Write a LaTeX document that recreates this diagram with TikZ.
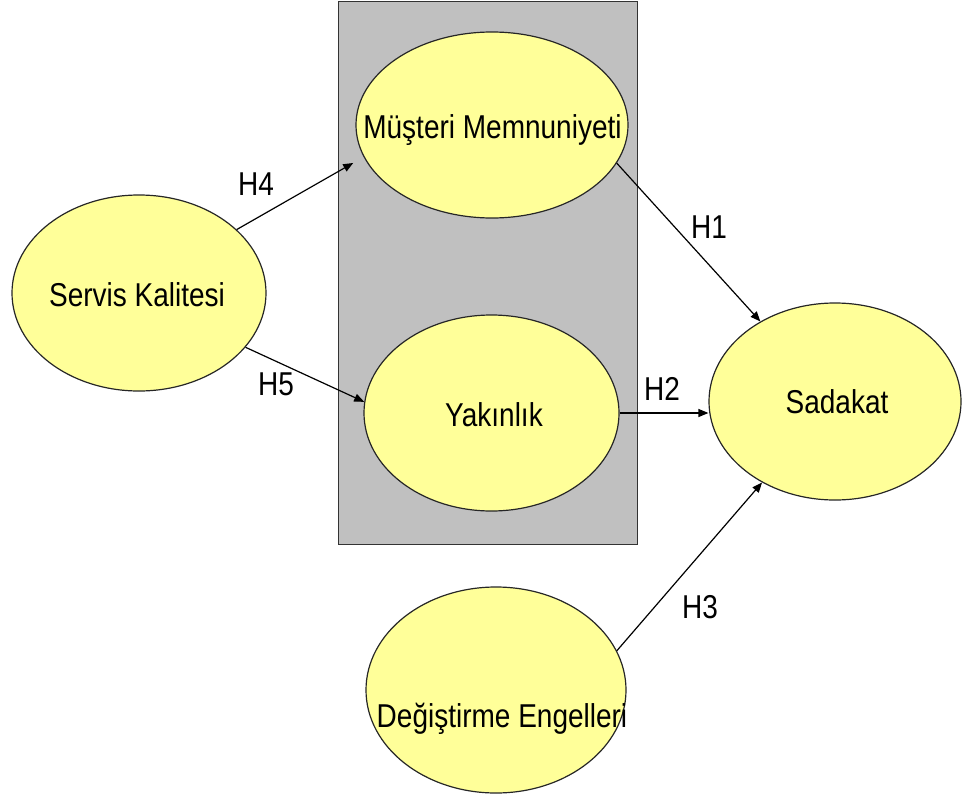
\documentclass[tikz,border=0pt]{standalone}
\usepackage{fontspec}
\setmainfont{Liberation Sans}
\usetikzlibrary{shapes.geometric,arrows.meta}
\definecolor{bubble}{RGB}{255,255,153}
\definecolor{panel}{RGB}{192,192,192}
% slightly tall lettering
\newcommand\stretchtxt[1]{\scalebox{1}[1.18]{#1}}
\begin{document}
\begin{tikzpicture}[x=1pt,y=-1pt,
  construct/.style={ellipse, draw=black!85, line width=1.2pt, fill=bubble, inner sep=0pt},
  caption/.style={inner sep=0pt, anchor=base, font=\fontsize{28}{32}\selectfont},
  hyp/.style={inner sep=0pt, anchor=base, font=\fontsize{28}{32}\selectfont},
  link/.style={draw=black, line width=1.2pt, -{Triangle[length=10pt,width=8pt]}}]
\useasboundingbox (0,0) rectangle (963,800);

% grey panel behind the two mediators
\node[draw=black!80, line width=1.3pt, fill=panel, minimum width=299pt,
      minimum height=543pt, anchor=north west, inner sep=0pt] (panel) at (338,1) {};

% constructs
\node[construct, minimum width=272pt, minimum height=186pt] (ms) at (492,125) {};
\node[construct, minimum width=254pt, minimum height=196pt] (sk) at (139,293) {};
\node[construct, minimum width=255pt, minimum height=196pt] (yk) at (491.5,413) {};
\node[construct, minimum width=252pt, minimum height=197pt] (sd) at (835,401.5) {};
\node[construct, minimum width=260pt, minimum height=206pt] (de) at (496,690) {};

% construct names
\node[caption] (ms-t) at (492.5,138) {\stretchtxt{Müşteri Memnuniyeti}};
\node[caption] (sk-t) at (137,306) {\stretchtxt{Servis Kalitesi}};
\node[caption] (yk-t) at (494,426) {\stretchtxt{Yakınlık}};
\node[caption] (sd-t) at (837,413) {\stretchtxt{Sadakat}};
\node[caption] (de-t) at (502,727) {\stretchtxt{Değiştirme Engelleri}};

% hypothesised paths
\draw[link, shorten >=12pt] (sk.33) -- (ms.194);
\draw[link] (sk.333) -- (yk.175);
\draw[link] (ms.343) -- (sd.133);
\draw[link] (yk.east) -- (yk.east -| sd.west);
\draw[link] (de.18) -- (sd.228);

% hypothesis labels
\node[hyp] (h4) at (256,195) {\stretchtxt{H4}};
\node[hyp] (h5) at (276,395) {\stretchtxt{H5}};
\node[hyp] (h1) at (709,238) {\stretchtxt{H1}};
\node[hyp] (h2) at (662,400) {\stretchtxt{H2}};
\node[hyp] (h3) at (700,618) {\stretchtxt{H3}};
\end{tikzpicture}
\end{document}
